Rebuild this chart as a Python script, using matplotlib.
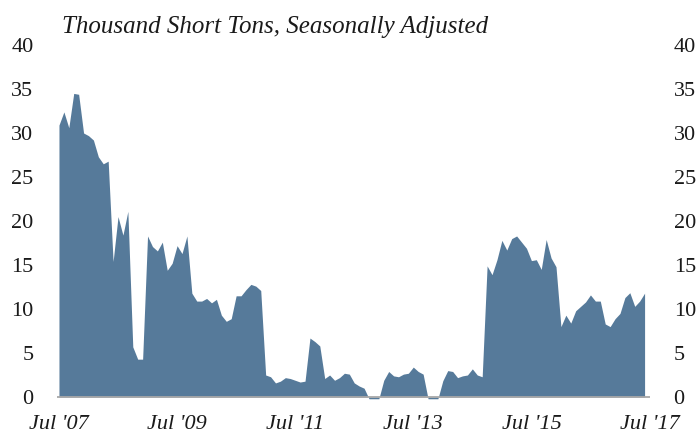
import matplotlib
matplotlib.use('Agg')
from matplotlib import pyplot as plt
import numpy as np

# monthly values, Jul 2007 .. Jun 2017, thousand short tons (SA)
values = [
    30.9, 32.4, 30.6, 34.5, 34.4, 30.0, 29.7, 29.2, 27.3, 26.5, 26.8, 15.4,   # Jul07-Jun08
    20.5, 18.4, 21.1, 5.7, 4.3, 4.3, 18.3, 17.1, 16.6, 17.6, 14.4, 15.2,      # Jul08-Jun09
    17.2, 16.3, 18.3, 11.8, 10.9, 10.9, 11.2, 10.7, 11.1, 9.3, 8.6, 8.9,      # Jul09-Jun10
    11.5, 11.5, 12.2, 12.8, 12.6, 12.1, 2.5, 2.3, 1.6, 1.8, 2.2, 2.1,         # Jul10-Jun11
    1.9, 1.7, 1.8, 6.7, 6.3, 5.8, 2.1, 2.5, 1.9, 2.2, 2.7, 2.6,               # Jul11-Jun12
    1.6, 1.25, 1.0, -0.2, -0.2, -0.2, 1.9, 2.9, 2.4, 2.3, 2.6, 2.7,           # Jul12-Jun13
    3.4, 2.9, 2.6, -0.2, -0.2, -0.2, 1.85, 3.0, 2.9, 2.2, 2.4, 2.5,           # Jul13-Jun14
    3.2, 2.5, 2.3, 14.9, 13.9, 15.6, 17.8, 16.7, 18.0, 18.3, 17.6, 16.9,      # Jul14-Jun15
    15.5, 15.6, 14.5, 17.9, 15.8, 14.8, 8.0, 9.3, 8.4, 9.8, 10.3, 10.8,       # Jul15-Jun16
    11.6, 10.9, 10.9, 8.3, 8.0, 8.9, 9.5, 11.3, 11.85, 10.3, 10.9, 11.8,      # Jul16-Jun17
]
tick_months = [0, 24, 48, 72, 96, 120]
tick_labels = ["Jul '07", "Jul '09", "Jul '11", "Jul '13", "Jul '15", "Jul '17"]
y_ticks = [0, 5, 10, 15, 20, 25, 30, 35, 40]

months = np.arange(len(values))

fig = plt.figure(figsize=(6.97, 4.43), dpi=100)
ax = fig.add_axes([57 / 697, 0.0919, 593 / 697, 0.8065])

ax.fill_between(months, values, 0, color='#567a9a', linewidth=0)
ax.axhline(0, color='#a8a8a8', linewidth=1.3, zorder=3)

ax.set_xlim(-0.4, 120.1)
ax.set_ylim(-0.6, 40)

ax.set_yticks(y_ticks)
ax.set_yticklabels([str(v) for v in y_ticks], family='Liberation Serif', fontsize=16)
ax.set_xticks(tick_months)
ax.set_xticklabels(tick_labels, family='Liberation Serif', style='italic', fontsize=16)

ax.tick_params(axis='y', length=0, pad=17, labelleft=True, labelright=True, colors='#1a1a1a')
ax.tick_params(axis='x', length=0, pad=9, colors='#1a1a1a')
for s in ax.spines.values():
    s.set_visible(False)

fig.text(62 / 697, 1 - 33 / 443, 'Thousand Short Tons, Seasonally Adjusted',
         family='Liberation Serif', style='italic', fontsize=18, color='#1a1a1a',
         ha='left', va='baseline')

fig.savefig('out.png', dpi=100)
